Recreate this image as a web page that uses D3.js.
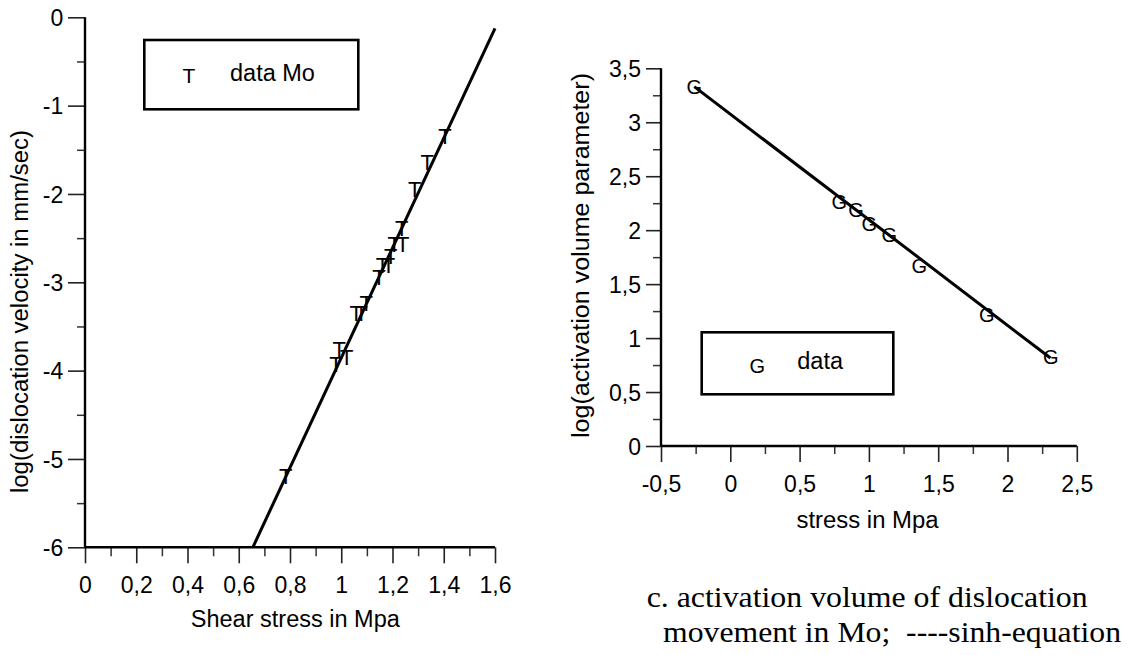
<!DOCTYPE html>
<html>
<head>
<meta charset="utf-8">
<script src="https://cdn.jsdelivr.net/npm/d3@7/dist/d3.min.js"></script>
<style>
  html, body { margin: 0; padding: 0; background: #fff; }
  svg { display: block; }
  text { font-family: "Liberation Sans", Arial, sans-serif; fill: #000; }
  .serif { font-family: "Liberation Serif", "Times New Roman", serif; white-space: pre; }
</style>
</head>
<body>
<svg id="chart" width="1132" height="655"></svg>
<script>
// ---- Panel b: dislocation velocity of Mo vs shear stress ----
const shearStress = [1.405, 1.336, 1.287, 1.236, 1.207, 1.240, 1.193, 1.161, 1.184,
                     1.147, 1.097, 1.058, 1.078, 0.992, 1.021, 0.979, 0.783];
const logVelocity = [-1.34, -1.64, -1.94, -2.39, -2.57, -2.57, -2.70, -2.80, -2.80,
                     -2.94, -3.23, -3.35, -3.35, -3.76, -3.85, -3.93, -5.19];
const fitShear = [0.655, 1.6];
const fitLogVelocity = [-6, -0.125];
const shearTicks = [0, 0.2, 0.4, 0.6, 0.8, 1, 1.2, 1.4, 1.6];
const shearMinor = [0.1, 0.3, 0.5, 0.7, 0.9, 1.1, 1.3, 1.5];
const velocityTicks = [0, -1, -2, -3, -4, -5, -6];
const velocityMinor = [-0.5, -1.5, -2.5, -3.5, -4.5, -5.5];

// ---- Panel c: activation volume parameter vs stress ----
const stressC = [-0.26, 0.786, 0.907, 1.003, 1.147, 1.364, 1.85, 2.312];
const logActVolume = [3.33, 2.26, 2.19, 2.06, 1.955, 1.67, 1.214, 0.822];
const fitStressC = [-0.26, 2.31];
const fitLogActVolume = [3.33, 0.815];
const stressTicks = [-0.5, 0, 0.5, 1, 1.5, 2, 2.5];
const stressMinor = [-0.25, 0.25, 0.75, 1.25, 1.75, 2.25];
const volumeTicks = [0, 0.5, 1, 1.5, 2, 2.5, 3, 3.5];
const volumeMinor = [0.25, 0.75, 1.25, 1.75, 2.25, 2.75, 3.25];

const svg = d3.select("#chart");
const LABEL_SIZE = 23;

const locale = d3.formatLocale({decimal: ",", thousands: ".", grouping: [3], currency: ["", ""], minus: "-"});
const fmt = locale.format("~g");

function drawAxes(g, x, y, opt) {
  // minor ticks
  g.append("g").attr("transform", `translate(0,${y.range()[0]})`)
    .call(d3.axisBottom(x).tickValues(opt.xMinor).tickSize(opt.xMinorLen).tickFormat(""))
    .call(s => s.select(".domain").remove())
    .selectAll("line").attr("stroke", "#333").attr("stroke-width", 1.5);
  g.append("g").attr("transform", `translate(${x.range()[0]},0)`)
    .call(d3.axisLeft(y).tickValues(opt.yMinor).tickSize(opt.yMinorLen).tickFormat(""))
    .call(s => s.select(".domain").remove())
    .selectAll("line").attr("stroke", "#333").attr("stroke-width", 1.5);

  // major ticks with labels
  const gx = g.append("g").attr("transform", `translate(0,${y.range()[0]})`)
    .call(d3.axisBottom(x).tickValues(opt.xTicks).tickSize(opt.xTickLen).tickFormat(fmt))
    .call(s => s.select(".domain").remove());
  gx.attr("font-size", null).attr("font-family", null);
  gx.selectAll("line").attr("stroke", "#222").attr("stroke-width", 1.6);
  gx.selectAll("text").attr("y", opt.xLabelY).attr("dy", 0)
    .style("font-size", LABEL_SIZE + "px").attr("fill", "#000");

  const gy = g.append("g").attr("transform", `translate(${x.range()[0]},0)`)
    .call(d3.axisLeft(y).tickValues(opt.yTicks).tickSize(opt.yTickLen).tickFormat(fmt))
    .call(s => s.select(".domain").remove());
  gy.attr("font-size", null).attr("font-family", null);
  gy.selectAll("line").attr("stroke", "#222").attr("stroke-width", 1.6);
  gy.selectAll("text").attr("x", -opt.yLabelGap).attr("dy", "0.36em")
    .style("font-size", LABEL_SIZE + "px").attr("fill", "#000");

  // axis lines
  g.append("line").attr("x1", x.range()[0]).attr("x2", x.range()[1])
    .attr("y1", y.range()[0]).attr("y2", y.range()[0])
    .attr("stroke", "#000").attr("stroke-width", 2.4);
  g.append("line").attr("x1", x.range()[0]).attr("x2", x.range()[0])
    .attr("y1", y.range()[0]).attr("y2", y.range()[1])
    .attr("stroke", "#000").attr("stroke-width", 2.4);
}

function legendBox(g, x0, y0, w, h, glyph, glyphX, glyphY, glyphSize, label, labelX, labelY) {
  g.append("rect").attr("x", x0).attr("y", y0).attr("width", w).attr("height", h)
    .attr("fill", "#fff").attr("stroke", "#000").attr("stroke-width", 2.6);
  g.append("text").attr("x", glyphX).attr("y", glyphY).attr("text-anchor", "middle")
    .attr("dy", "0.36em").style("font-size", glyphSize + "px").attr("fill", "#222").text(glyph);
  g.append("text").attr("x", labelX).attr("y", labelY)
    .style("font-size", LABEL_SIZE + 0.5 + "px").text(label);
}

// ---------- left panel ----------
const xL = d3.scaleLinear().domain([0, 1.6]).range([85, 495]);
const yL = d3.scaleLinear().domain([-6, 0]).range([547.3, 17.3]);
const gL = svg.append("g");

legendBox(gL, 144.3, 40, 214, 69.3, "T", 189, 75.5, 21, "data Mo", 230, 80.7);

drawAxes(gL, xL, yL, {
  xTicks: shearTicks, xMinor: shearMinor, xTickLen: 16, xMinorLen: 9, xLabelY: 45.4,
  yTicks: velocityTicks, yMinor: velocityMinor, yTickLen: 17, yMinorLen: 8, yLabelGap: 21.7
});

const fitL = d3.zip(fitShear, fitLogVelocity);
gL.append("path").datum(fitL)
  .attr("d", d3.line().x(d => xL(d[0])).y(d => yL(d[1])))
  .attr("fill", "none").attr("stroke", "#000").attr("stroke-width", 3);

gL.append("g").selectAll("text").data(d3.zip(shearStress, logVelocity)).join("text")
  .attr("x", d => xL(d[0])).attr("y", d => yL(d[1]))
  .attr("dy", "0.36em").attr("text-anchor", "middle")
  .style("font-size", "22px").attr("fill", "#222").text("T");

gL.append("text").attr("x", 295.3).attr("y", 627).attr("text-anchor", "middle")
  .style("font-size", LABEL_SIZE + "px").attr("textLength", 209).attr("lengthAdjust", "spacingAndGlyphs")
  .text("Shear stress in Mpa");
gL.append("text").attr("transform", "translate(28,311.5) rotate(-90)")
  .attr("text-anchor", "middle").style("font-size", LABEL_SIZE + "px")
  .attr("textLength", 363).attr("lengthAdjust", "spacingAndGlyphs")
  .text("log(dislocation velocity in mm/sec)");

// ---------- right panel ----------
const xR = d3.scaleLinear().domain([-0.5, 2.5]).range([661, 1076.8]);
const yR = d3.scaleLinear().domain([0, 3.5]).range([446, 68.3]);
const gR = svg.append("g");

legendBox(gR, 701.7, 332.3, 191.6, 62, "G", 757.3, 365.5, 20, "data", 797.3, 368.5);

drawAxes(gR, xR, yR, {
  xTicks: stressTicks, xMinor: stressMinor, xTickLen: 16, xMinorLen: 8, xLabelY: 45.7,
  yTicks: volumeTicks, yMinor: volumeMinor, yTickLen: 15, yMinorLen: 8, yLabelGap: 20
});

const fitR = d3.zip(fitStressC, fitLogActVolume);
gR.append("path").datum(fitR)
  .attr("d", d3.line().x(d => xR(d[0])).y(d => yR(d[1])))
  .attr("fill", "none").attr("stroke", "#000").attr("stroke-width", 3);

gR.append("g").selectAll("text").data(d3.zip(stressC, logActVolume)).join("text")
  .attr("x", d => xR(d[0])).attr("y", d => yR(d[1]))
  .attr("dy", "0.36em").attr("text-anchor", "middle")
  .style("font-size", "20px").attr("fill", "#222").text("G");

gR.append("text").attr("x", 867.5).attr("y", 528.3).attr("text-anchor", "middle")
  .style("font-size", LABEL_SIZE + "px").attr("textLength", 142).attr("lengthAdjust", "spacingAndGlyphs")
  .text("stress in Mpa");
gR.append("text").attr("transform", "translate(589,255.5) rotate(-90)")
  .attr("text-anchor", "middle").style("font-size", LABEL_SIZE + "px")
  .attr("textLength", 365).attr("lengthAdjust", "spacingAndGlyphs")
  .text("log(activation volume parameter)");

// caption
svg.append("text").attr("class", "serif").attr("x", 646.7).attr("y", 606.7)
  .style("font-size", "30px").attr("textLength", 441).attr("lengthAdjust", "spacingAndGlyphs")
  .text("c. activation volume of dislocation");
svg.append("text").attr("class", "serif").attr("x", 663).attr("y", 641.7)
  .style("font-size", "30px").attr("textLength", 458).attr("lengthAdjust", "spacingAndGlyphs")
  .text("movement in Mo;  ----sinh-equation");
</script>
</body>
</html>
